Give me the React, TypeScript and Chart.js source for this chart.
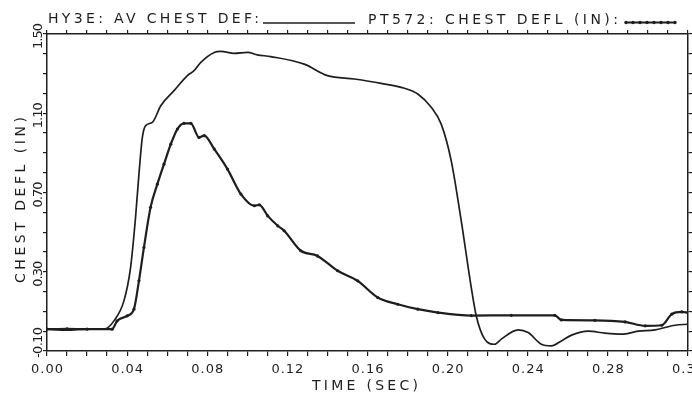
import React, { useEffect, useRef } from "react";
import { Chart, registerables } from "chart.js";

Chart.register(...registerables);

// ---- data ----
const avTime = [0, 0.01, 0.02, 0.029, 0.0334, 0.0384, 0.0417, 0.0442, 0.0459, 0.0476, 0.0492, 0.0526, 0.0568, 0.0634, 0.0701, 0.0734, 0.0768, 0.0835, 0.0868, 0.0935, 0.1002, 0.105, 0.1117, 0.1284, 0.14, 0.1534, 0.1668, 0.1785, 0.1851, 0.1918, 0.1968, 0.2018, 0.2068, 0.2118, 0.2143, 0.2185, 0.2235, 0.2268, 0.2352, 0.2402, 0.2468, 0.2518, 0.2568, 0.2619, 0.2702, 0.2785, 0.2869, 0.2952, 0.3036, 0.3136, 0.32];
const avDefl = [0.01, 0.005, 0.01, 0.012, 0.052, 0.153, 0.32, 0.574, 0.793, 0.978, 1.037, 1.054, 1.138, 1.214, 1.29, 1.315, 1.357, 1.407, 1.412, 1.402, 1.407, 1.395, 1.386, 1.348, 1.29, 1.273, 1.251, 1.226, 1.197, 1.13, 1.045, 0.86, 0.557, 0.22, 0.077, -0.04, -0.066, -0.04, 0.007, -0.007, -0.066, -0.074, -0.049, -0.02, 0.0, -0.01, -0.015, 0.0, 0.007, 0.03, 0.035];

const ptTime = [0, 0.01, 0.02, 0.0325, 0.035, 0.04, 0.0434, 0.0459, 0.0484, 0.0517, 0.0551, 0.0584, 0.0618, 0.0651, 0.0684, 0.0718, 0.0759, 0.0785, 0.0835, 0.0901, 0.0968, 0.1035, 0.106, 0.1102, 0.1152, 0.1184, 0.1267, 0.135, 0.1451, 0.1551, 0.1651, 0.1751, 0.1851, 0.1952, 0.2118, 0.2318, 0.2535, 0.2568, 0.2735, 0.2886, 0.2986, 0.3069, 0.3119, 0.3169, 0.32];
const ptDefl = [0.01, 0.012, 0.01, 0.01, 0.052, 0.077, 0.111, 0.254, 0.423, 0.625, 0.742, 0.843, 0.944, 1.02, 1.049, 1.049, 0.978, 0.987, 0.919, 0.818, 0.692, 0.633, 0.638, 0.582, 0.532, 0.507, 0.406, 0.38, 0.305, 0.254, 0.17, 0.136, 0.111, 0.094, 0.079, 0.08, 0.08, 0.057, 0.055, 0.047, 0.027, 0.03, 0.086, 0.097, 0.094];

const legendAv = "HY3E: AV CHEST DEF:";
const legendPt = "PT572: CHEST DEFL (IN):";
const xTitle = "TIME (SEC)";
const yTitle = "CHEST DEFL (IN)";

const xMin = 0, xMax = 0.32, xStep = 0.01, xLabelEvery = 4;
const yMin = -0.1, yMax = 1.5, yStep = 0.1, yLabelEvery = 4;

const INK = "#1e1e1e";
const FONT = "'DejaVu Sans', sans-serif";

function drawFitted(ctx: CanvasRenderingContext2D, text: string, x: number, y: number, width: number) {
  (ctx as any).letterSpacing = "0px";
  const w = ctx.measureText(text).width;
  const ls = (width - w) / Math.max(1, text.length - 1);
  (ctx as any).letterSpacing = ls + "px";
  ctx.textAlign = "left";
  ctx.fillText(text, x, y);
  (ctx as any).letterSpacing = "0px";
}

const textPlugin = {
  id: "plotterText",
  afterDraw(chart: any) {
    const ctx: CanvasRenderingContext2D = chart.ctx;
    const xs = chart.scales.x;
    const ys = chart.scales.y;
    ctx.save();
    ctx.fillStyle = INK;
    ctx.strokeStyle = INK;
    ctx.textBaseline = "alphabetic";

    // legend
    ctx.font = `14px ${FONT}`;
    drawFitted(ctx, legendAv, 48, 23, 211);
    ctx.lineWidth = 1.6;
    ctx.beginPath();
    ctx.moveTo(263, 23);
    ctx.lineTo(355, 23);
    ctx.stroke();
    drawFitted(ctx, legendPt, 368, 24, 250);
    ctx.lineWidth = 2;
    ctx.beginPath();
    ctx.moveTo(625, 22.5);
    ctx.lineTo(675, 22.5);
    ctx.stroke();
    for (let bx = 626; bx <= 675; bx += 7) {
      ctx.beginPath();
      ctx.arc(bx, 22.5, 1.7, 0, Math.PI * 2);
      ctx.fill();
    }

    // x tick labels
    ctx.font = `13px ${FONT}`;
    xs.ticks.forEach((t: any) => {
      const idx = Math.round((t.value - xMin) / xStep);
      if (idx % xLabelEvery !== 0) return;
      const label = t.value.toFixed(2);
      const px = xs.getPixelForValue(t.value);
      const width = 32;
      drawFitted(ctx, label, px - width / 2, 373, width);
    });

    // y tick labels (rotated)
    ys.ticks.forEach((t: any) => {
      const idx = Math.round((t.value - yMin) / yStep);
      if (idx % yLabelEvery !== 0) return;
      const label = t.value.toFixed(2);
      const width = label.length > 4 ? 31 : 26;
      let py = ys.getPixelForValue(t.value) + 2;
      if (py + width / 2 > 358) py = 358 - width / 2;
      ctx.save();
      ctx.translate(42, py);
      ctx.rotate(-Math.PI / 2);
      drawFitted(ctx, label, -width / 2, 0, width);
      ctx.restore();
    });

    // axis titles
    ctx.font = `14px ${FONT}`;
    drawFitted(ctx, xTitle, 312, 390, 106);
    ctx.save();
    ctx.translate(25, 283);
    ctx.rotate(-Math.PI / 2);
    drawFitted(ctx, yTitle, 0, 0, 166);
    ctx.restore();

    ctx.restore();
  },
};

function axisCommon(extra: any) {
  return {
    type: "linear",
    grid: { drawOnChartArea: false, drawTicks: true, tickLength: 4, color: INK, lineWidth: 1.2 },
    border: { display: true, color: INK, width: 1.5 },
    ticks: { display: false, autoSkip: false },
    ...extra,
  };
}

export default function App() {
  const ref = useRef<HTMLCanvasElement | null>(null);
  useEffect(() => {
    if (!ref.current) return;
    const chart = new Chart(ref.current, {
      type: "line",
      data: {
        datasets: [
          {
            label: legendAv,
            data: avTime.map((t, i) => ({ x: t, y: avDefl[i] })),
            borderColor: INK,
            borderWidth: 1.7,
            pointRadius: 0,
            cubicInterpolationMode: "monotone",
            xAxisID: "x",
            yAxisID: "y",
          },
          {
            label: legendPt,
            data: ptTime.map((t, i) => ({ x: t, y: ptDefl[i] })),
            borderColor: INK,
            borderWidth: 2.2,
            pointRadius: 1.6,
            pointBackgroundColor: INK,
            pointBorderWidth: 0,
            cubicInterpolationMode: "monotone",
            xAxisID: "x",
            yAxisID: "y",
          },
        ],
      },
      options: {
        animation: false,
        responsive: false,
        devicePixelRatio: 1,
        layout: { padding: 0 },
        plugins: { legend: { display: false }, tooltip: { enabled: false }, title: { display: false } },
        scales: {
          x: axisCommon({
            position: "bottom", min: xMin, max: xMax,
            ticks: { display: false, autoSkip: false, stepSize: xStep },
            grid: { drawOnChartArea: false, drawTicks: true, tickLength: 5, color: INK, lineWidth: 1.2 },
            afterFit: (s: any) => { s.height = 44; },
          }),
          x2: axisCommon({
            position: "top", min: xMin, max: xMax,
            ticks: { display: false, autoSkip: false, stepSize: xStep },
            afterFit: (s: any) => { s.height = 34; },
          }),
          y: axisCommon({
            position: "left", min: yMin, max: yMax,
            ticks: { display: false, autoSkip: false, stepSize: yStep },
            afterFit: (s: any) => { s.width = 47; },
          }),
          y2: axisCommon({
            position: "right", min: yMin, max: yMax,
            ticks: { display: false, autoSkip: false, stepSize: yStep },
            afterFit: (s: any) => { s.width = 4; },
          }),
        },
      } as any,
      plugins: [textPlugin],
    });
    return () => chart.destroy();
  }, []);

  return (
    <div style={{ position: "fixed", left: 0, top: 0, width: 692, height: 395, background: "#fff" }}>
      <canvas ref={ref} width={692} height={395} style={{ display: "block" }} />
    </div>
  );
}
